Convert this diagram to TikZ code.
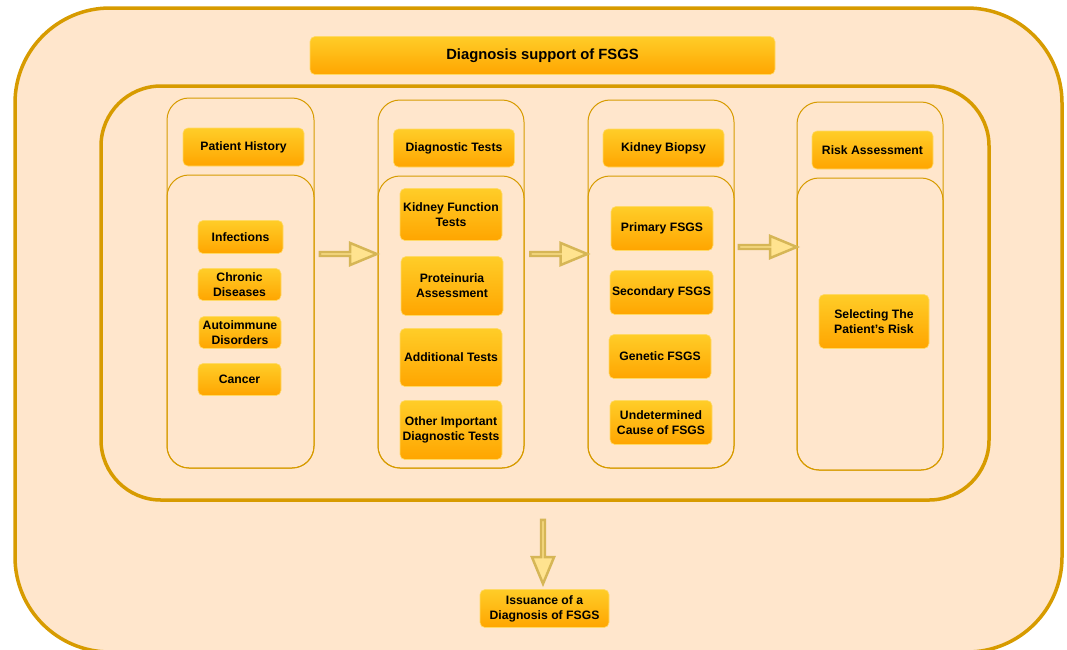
\documentclass[tikz,border=0pt]{standalone}
\usepackage{fontspec}
\setmainfont{Liberation Sans}
\usetikzlibrary{shapes.arrows}

\definecolor{peach}{HTML}{FFE6CC}
\definecolor{gold}{HTML}{D79B00}
\definecolor{boxtop}{HTML}{FFCD28}
\definecolor{boxbot}{HTML}{FFA500}
\definecolor{boxline}{HTML}{FFD966}
\definecolor{arrowline}{HTML}{D6B656}
\definecolor{arrowfill}{HTML}{FFE38F}

\begin{document}
\begin{tikzpicture}[x=1pt,y=-1pt,
	frame/.style={draw=gold,line width=1pt,rounded corners=22pt,inner sep=0pt},
	box/.style={rounded corners=5pt,inner sep=0pt,top color=boxtop,bottom color=boxbot,draw=boxline,line width=0.6pt,align=center,font=\fontsize{12.2}{15}\selectfont\bfseries},
	blockarrow/.style={single arrow,draw=arrowline,fill=arrowfill,line width=2.5pt,inner sep=0pt,minimum width=22pt,single arrow head extend=6pt,single arrow tip angle=45}]
		\useasboundingbox (0,0) rectangle (1067,649);
		\node[draw=gold,fill=peach,line width=3.5pt,rounded corners=95pt,minimum width=1047pt,minimum height=644pt,inner sep=0pt] (outer) at (538.5,330) {};
		\node[draw=gold,line width=3.5pt,rounded corners=60pt,minimum width=888pt,minimum height=414pt,inner sep=0pt] (inner) at (545,293) {};
		\node[box,minimum width=465pt,minimum height=38pt,font=\fontsize{14.8}{17}\selectfont\bfseries] (title) at (542.5,55.5) {Diagnosis support of FSGS};
		\node[frame,minimum width=147pt,minimum height=370pt] (col1) at (240.5,283) {};
		\node[frame,minimum width=147pt,minimum height=293pt] (low1) at (240.5,321.5) {};
		\node[frame,minimum width=146pt,minimum height=368pt] (col2) at (451,284) {};
		\node[frame,minimum width=146pt,minimum height=292pt] (low2) at (451,322) {};
		\node[frame,minimum width=146pt,minimum height=368pt] (col3) at (661,284) {};
		\node[frame,minimum width=146pt,minimum height=292pt] (low3) at (661,322) {};
		\node[frame,minimum width=146pt,minimum height=368pt] (col4) at (870,286) {};
		\node[frame,minimum width=146pt,minimum height=292pt] (low4) at (870,324) {};
		\node[box,minimum width=121pt,minimum height=38pt] (ph) at (243.5,147) {Patient History};
		\node[box,minimum width=121pt,minimum height=38pt] (dt) at (454,148) {Diagnostic Tests};
		\node[box,minimum width=121pt,minimum height=38pt] (kb) at (663.5,148) {Kidney Biopsy};
		\node[box,minimum width=121pt,minimum height=38pt] (ra) at (872.5,150) {Risk Assessment};
		\node[box,minimum width=85pt,minimum height=33pt] (inf) at (240.5,237) {Infections};
		\node[box,minimum width=83pt,minimum height=32pt] (chr) at (239.5,284.5) {Chronic\\Diseases};
		\node[box,minimum width=82pt,minimum height=32pt] (aut) at (240,332.5) {Autoimmune\\Disorders};
		\node[box,minimum width=83pt,minimum height=32pt] (can) at (239.5,379.5) {Cancer};
		\node[box,minimum width=102pt,minimum height=52pt] (kft) at (451,214.5) {Kidney Function\\Tests};
		\node[box,minimum width=102pt,minimum height=59pt] (pro) at (452,286) {Proteinuria\\Assessment};
		\node[box,minimum width=102pt,minimum height=58pt] (add) at (451,357.5) {Additional Tests};
		\node[box,minimum width=102pt,minimum height=59pt] (oth) at (451,430) {Other Important\\Diagnostic Tests};
		\node[box,minimum width=102pt,minimum height=44pt] (pri) at (662,228.5) {Primary FSGS};
		\node[box,minimum width=103pt,minimum height=44pt] (sec) at (661.5,292.5) {Secondary FSGS};
		\node[box,minimum width=102pt,minimum height=44pt] (gen) at (660,356.5) {Genetic FSGS};
		\node[box,minimum width=102pt,minimum height=44pt] (und) at (661,422.5) {Undetermined\\Cause of FSGS};
		\node[box,minimum width=110pt,minimum height=54pt] (sel) at (874,321.5) {Selecting The\\Patient's Risk};
		\node[box,minimum width=129pt,minimum height=38pt] (iss) at (544.5,608.5) {Issuance of a\\Diagnosis of FSGS};
		\node[blockarrow,minimum height=57pt] (arr1) at (346,254) {};
		\node[blockarrow,minimum height=57pt] (arr2) at (556.5,254) {};
		\node[blockarrow,minimum height=58pt] (arr3) at (765.5,247) {};
		\node[blockarrow,minimum height=64pt,shape border rotate=270] (arr4) at (543,549.5) {};
\end{tikzpicture}
\end{document}
